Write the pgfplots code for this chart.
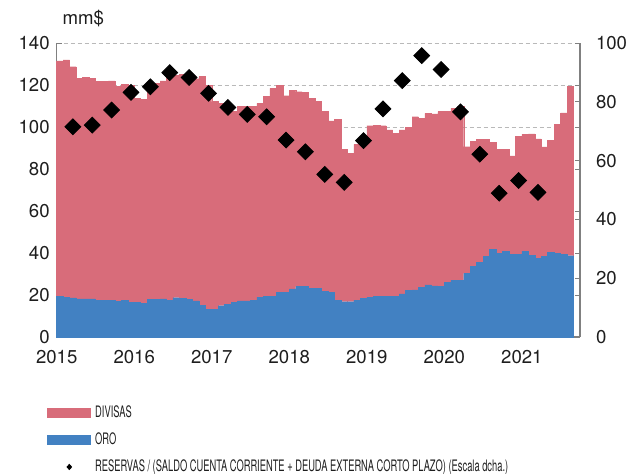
\documentclass[border=0pt]{standalone}
\usepackage{fontspec}
\setmainfont{TeX Gyre Heros}
\newfontfamily\condfont[FakeStretch=0.59]{TeX Gyre Heros}
\usepackage{pgfplots}
\usepackage{pgfplotstable}
\pgfplotsset{compat=1.18}
\usetikzlibrary{calc}

\definecolor{divisas}{RGB}{216,108,122}
\definecolor{oro}{RGB}{66,129,194}
\definecolor{axisgray}{RGB}{128,128,128}
\definecolor{gridgray}{RGB}{185,185,185}
\definecolor{labelcol}{RGB}{30,30,30}

% mm$, monthly, Jan 2015 - Aug 2021
\pgfplotstableread{
oro  div
19.2 112.3
18.8 113.2
18.6 110.1
18.1 105.2
18.1 105.7
18.1 105.2
17.3 104.5
17.3 104.5
17.3 104.7
17.0 102.5
17.3 102.9
16.5 103.5
16.5 97.2
16.0 97.2
18.0 100.0
18.0 102.8
18.2 103.8
17.3 106.2
18.7 105.8
18.5 106.5
17.9 106.6
17.2 105.8
15.2 108.8
13.2 106.8
13.2 98.9
14.9 96.4
15.7 93.1
16.5 90.8
17.2 92.5
17.2 92.8
17.6 92.1
18.9 92.4
19.5 95.1
19.5 98.9
21.3 98.7
21.3 93.6
22.9 94.7
24.0 92.8
24.2 92.3
23.3 90.4
23.2 88.9
21.9 85.7
21.3 81.6
17.6 86.2
16.8 72.7
16.8 70.7
17.6 74.1
18.4 75.1
18.9 81.7
19.5 81.4
19.5 81.1
19.2 79.4
19.5 77.5
20.5 78.1
22.1 77.9
22.4 82.5
23.7 80.4
24.8 81.7
24.3 81.9
24.0 83.3
25.9 81.7
27.1 81.8
27.1 82.9
30.3 60.3
33.5 59.8
35.6 58.4
38.3 55.7
41.7 51.0
39.8 49.4
40.8 48.7
39.2 47.1
39.2 56.4
40.8 55.7
39.0 57.7
37.5 56.8
38.3 52.2
40.3 53.2
39.8 61.3
39.5 67.2
38.7 80.5
}\reservas

% quarterly ratio (right scale), x = month index
\pgfplotstableread{
x    ratio
2.5  71.5
5.5  72.1
8.5  77.2
11.5 83.2
14.5 85.1
17.5 89.9
20.5 88.3
23.5 82.9
26.5 78.1
29.5 75.7
32.5 74.9
35.5 67.0
38.5 63.0
41.5 55.3
44.5 52.6
47.5 66.8
50.5 77.6
53.5 87.2
56.5 95.7
59.5 91.0
62.5 76.6
65.5 62.2
68.5 48.9
71.5 53.2
74.5 49.2
}\ratio

\begin{document}
\begin{tikzpicture}
\begin{axis}[
    scale only axis,
    width=261.65pt, height=147pt,
    xmin=0, xmax=81, ymin=0, ymax=140,
    ybar stacked, bar width=1,
    axis x line*=bottom, axis y line*=left,
    axis line style={draw=axisgray, line width=0.6pt, -},
    xtick={0,12,24,36,48,60,72},
    xticklabels={2015,2016,2017,2018,2019,2020,2021},
    ytick={0,20,...,140},
    tick align=inside, major tick length=2.5pt,
    tick style={draw=axisgray, line width=0.5pt},
    ymajorgrids,
    grid style={draw=gridgray, dash pattern=on 2pt off 1.5pt, line width=0.5pt},
    ticklabel style={font=\fontsize{9.3}{9.3}\selectfont, text=labelcol},
    xticklabel style={yshift=-3pt},
    /pgf/number format/assume math mode=true,
    clip=false,
    legend style={
        at={(-0.0185,-0.2196)}, anchor=north west,
        draw=none, fill=none, inner sep=0pt,
        row sep=2.0pt, column sep=0pt,
        font=\condfont\fontsize{7.9}{7.9}\selectfont,
        text=labelcol,
    },
    legend cell align=left,
]
\addlegendimage{legend image code/.code={\fill[divisas] (0pt,-2.25pt) rectangle (21.5pt,2.25pt);}}
\addlegendimage{legend image code/.code={\fill[oro] (0pt,-2.25pt) rectangle (21.5pt,2.25pt);}}
\addlegendimage{legend image code/.code={\fill[black] (10.75pt,1.3pt) -- (11.9pt,0pt) -- (10.75pt,-1.3pt) -- (9.6pt,0pt) -- cycle; \path (0pt,0pt) (21.5pt,0pt);}}
\legend{DIVISAS, ORO, RESERVAS / (SALDO CUENTA CORRIENTE + DEUDA EXTERNA CORTO PLAZO) (Escala dcha.)}

\addplot[fill=oro, draw=oro, line width=0.2pt] table[x expr=\coordindex+0.5, y=oro]{\reservas};
\addplot[fill=divisas, draw=divisas, line width=0.2pt] table[x expr=\coordindex+0.5, y=div]{\reservas};

\coordinate (O) at (rel axis cs:0,0);
\node[anchor=south west, inner sep=0pt, font=\fontsize{9.3}{9.3}\selectfont, text=labelcol]
    at (rel axis cs:0,1) [xshift=2.8pt, yshift=8pt] {mm\$};
\end{axis}

\begin{axis}[
    scale only axis,
    width=261.65pt, height=147pt,
    xmin=0, xmax=81, ymin=0, ymax=100,
    axis x line=none, axis y line*=right,
    axis line style={draw=axisgray, line width=0.6pt, -},
    ytick={0,20,...,100},
    extra y ticks={14.2857,28.5714,42.8571,57.1429,71.4286,85.7143},
    extra y tick labels={},
    tick align=inside, major tick length=2.5pt,
    tick style={draw=axisgray, line width=0.5pt},
    ticklabel style={font=\fontsize{9.3}{9.3}\selectfont, text=labelcol},
    yticklabel style={xshift=4.5pt},
    /pgf/number format/assume math mode=true,
    clip=false,
]
\addplot[only marks, mark=square*, mark size=2.8pt,
    mark options={rotate=45, fill=black, draw=black}] table[x=x, y=ratio]{\ratio};
\end{axis}

\pgfresetboundingbox
\path[use as bounding box] ($(O)+(-28.35pt,-68pt)$) rectangle ($(O)+(284.65pt,168.5pt)$);
\end{tikzpicture}
\end{document}
